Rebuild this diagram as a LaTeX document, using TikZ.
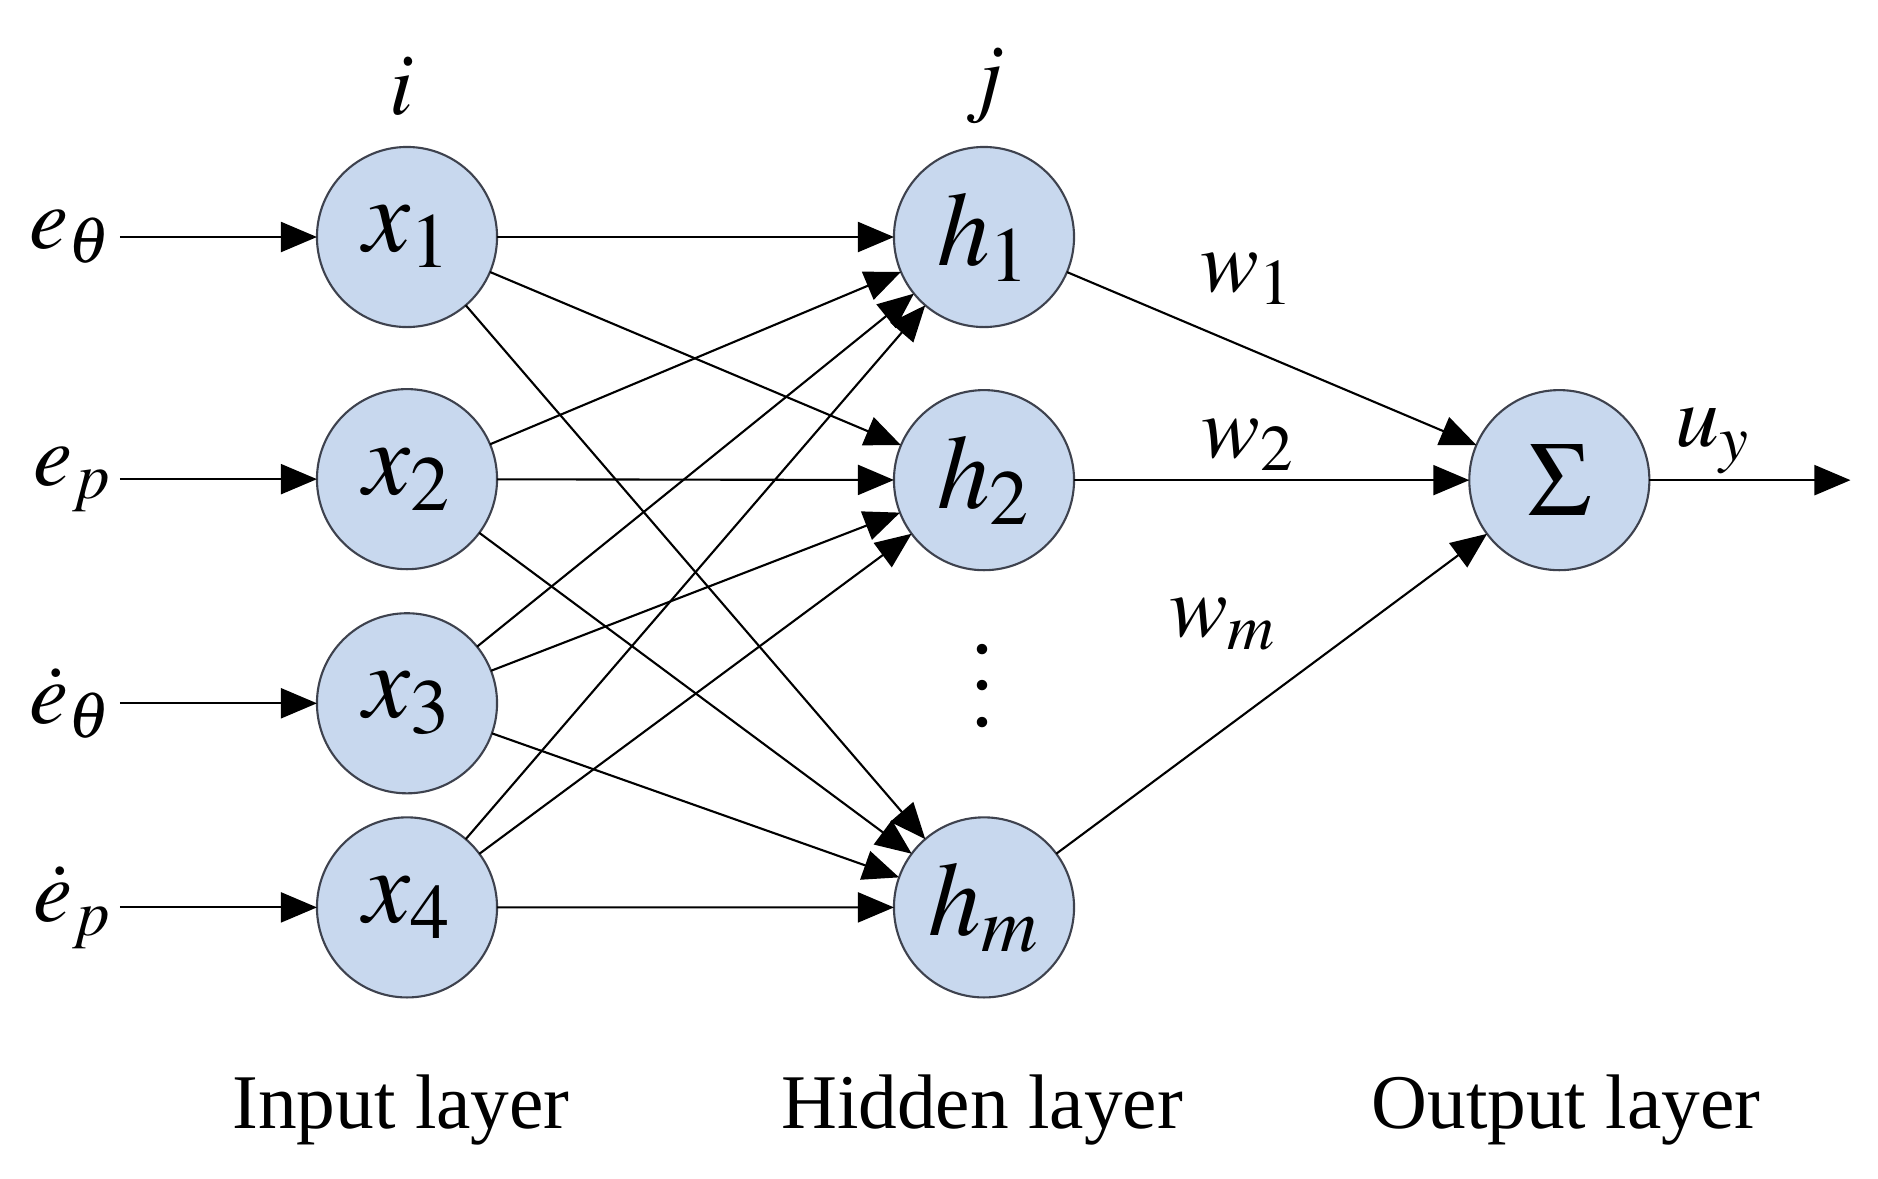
\documentclass[tikz,border=0pt]{standalone}
\usepackage{mathptmx}
\usepackage{fontspec}
\setmainfont{Liberation Serif}
\usetikzlibrary{positioning,arrows.meta}
\definecolor{cellblue}{RGB}{200,216,238}
\definecolor{rimgray}{RGB}{62,66,78}
\tikzstyle{neuron} = [circle,draw=rimgray,fill=cellblue,line width=0.6pt,minimum size=1.8cm,inner sep=0pt,outer sep=0pt,font=\fontsize{30}{36}\selectfont]
\newcommand{\tallvdots}{\vbox{\baselineskip=0.42em\lineskiplimit=-10pt\hbox{.}\hbox{.}\hbox{.}}}

\begin{document}
\begin{tikzpicture}
		[
		x=0.01cm, y=-0.01cm,
		sym/.style={inner sep=2pt,font=\fontsize{25}{30}\selectfont},
		layer/.style={font=\fontsize{22}{26}\selectfont},
		link/.style={line width=0.6pt,-{Triangle[length=0.36cm,width=0.3cm]}}
		]
		\useasboundingbox (0,0) rectangle (1878,1178);
		% input layer
		\node[neuron](x1) at (407,237) {$x_1$};
		\node[neuron,on grid,below=2.42cm of x1](x2) {$x_2$};
		\node[neuron,on grid,below=2.24cm of x2](x3) {$x_3$};
		\node[neuron,on grid,below=2.04cm of x3](x4) {$x_4$};
		% hidden layer
		\node[neuron](h1) at (984,237) {$h_1$};
		\node[neuron,on grid,below=2.43cm of h1](h2) {$h_2$};
		\node[neuron,on grid,below=6.70cm of h1](hm) {$h_m$};
		% output layer
		\node[neuron,on grid,right=5.75cm of h2](sum) {$\Sigma$};
		\coordinate[on grid,right=2.91cm of sum](out);
		% inputs
		\node[sym,left=1.97cm of x1](in_e) {$e_\theta$};
		\node[sym,left=1.97cm of x2](in_p) {$e_p$};
		\node[sym,left=1.97cm of x3](in_de) {$\dot e_\theta$};
		\node[sym,left=1.97cm of x4](in_dp) {$\dot e_p$};
		\draw[link] (in_e) -- (x1);
		\draw[link] (in_p) -- (x2);
		\draw[link] (in_de) -- (x3);
		\draw[link] (in_dp) -- (x4);
		% full connections
		\foreach \a in {x1,x2,x3,x4}
		\foreach \b in {h1,h2,hm}
		\draw[link] (\a) -- (\b);
		\foreach \b in {h1,h2,hm}
		\draw[link] (\b) -- (sum);
		\draw[link] (sum) -- (out);
		% labels
		\node[sym](lab_i) at (402,86) {$i$};
		\node[sym](lab_j) at (985,86) {$j$};
		\node[sym](lab_w1) at (1247,279) {$w_1$};
		\node[sym](lab_w2) at (1248,445) {$w_2$};
		\node[sym](lab_wm) at (1223,624) {$w_m$};
		\node[sym](lab_u) at (1713,441) {$u_y$};
		\node[sym](dots) at (982,686) {\tallvdots};
		\node[layer](name_in) at (401,1110) {Input layer};
		\node[layer](name_hid) at (982,1110) {Hidden layer};
		\node[layer](name_out) at (1566,1110) {Output layer};
\end{tikzpicture}
\end{document}
